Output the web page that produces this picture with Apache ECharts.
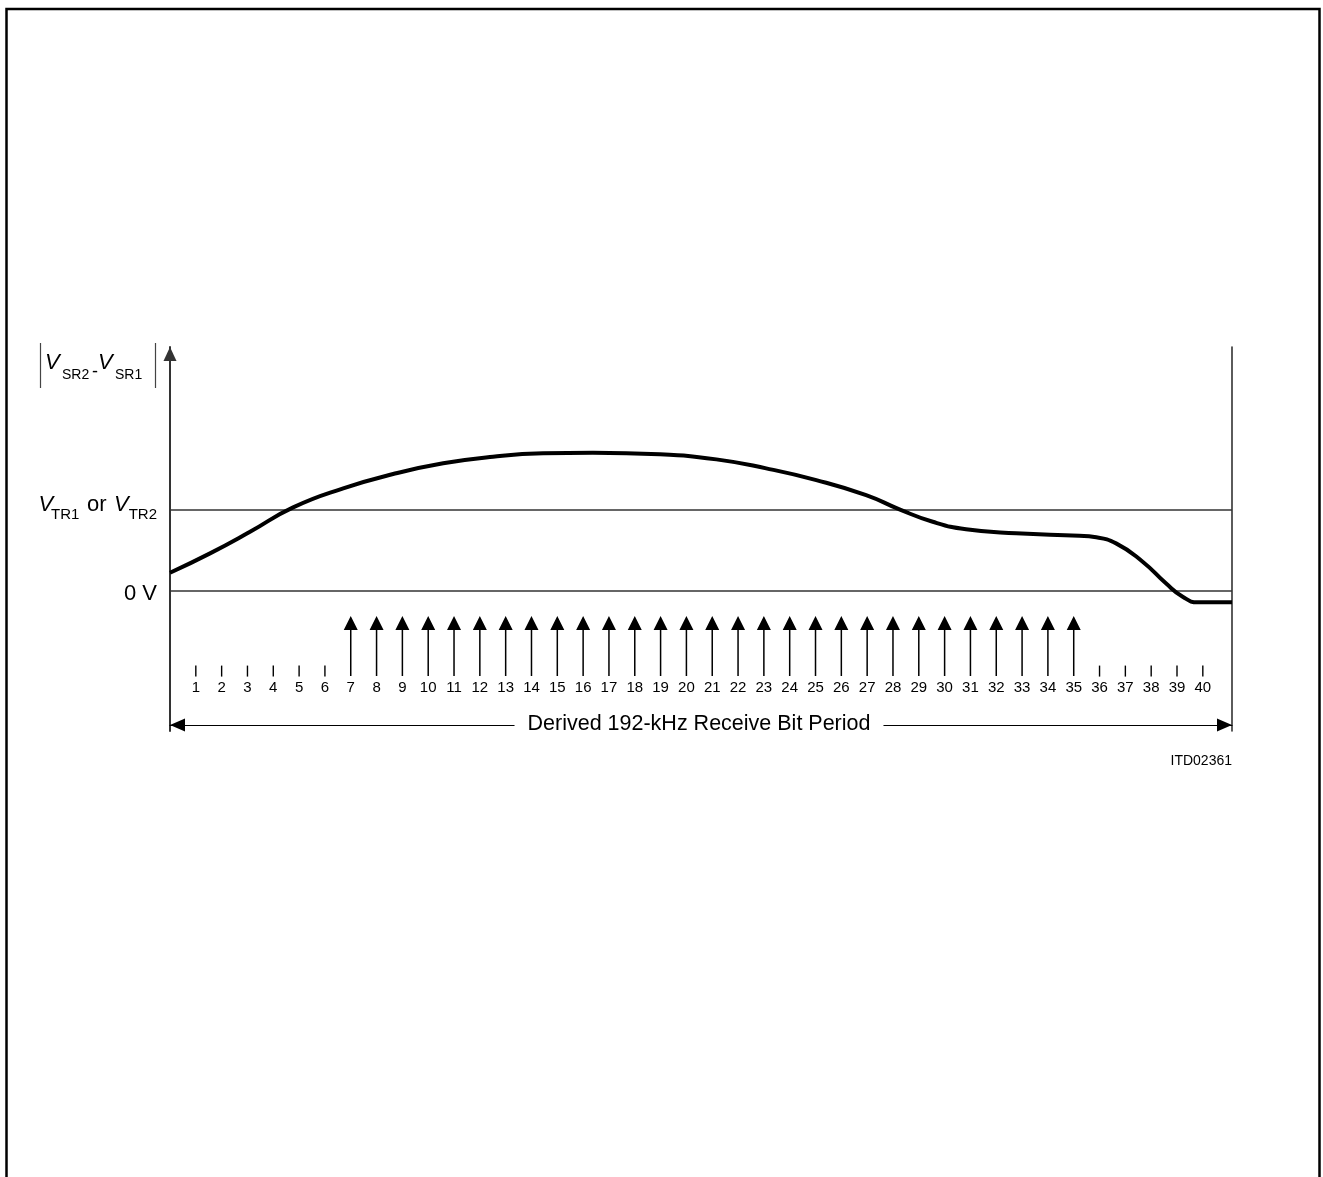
<!DOCTYPE html>
<html>
<head>
<meta charset="utf-8">
<script src="https://cdn.jsdelivr.net/npm/echarts@6/dist/echarts.min.js"></script>
<style>
html,body{margin:0;padding:0;background:#fff;}
#chart{width:1323px;height:1177px;}
</style>
</head>
<body>
<div id="chart"></div>
<script>
// ---- data ----
const bitLabels = ['1','2','3','4','5','6','7','8','9','10','11','12','13','14','15','16','17','18','19','20',
  '21','22','23','24','25','26','27','28','29','30','31','32','33','34','35','36','37','38','39','40'];
const arrowBits = [7,8,9,10,11,12,13,14,15,16,17,18,19,20,21,22,23,24,25,26,27,28,29,30,31,32,33,34,35];
const tickBits = [1,2,3,4,5,6,36,37,38,39,40];
// curve |VSR2 - VSR1| over the bit period (0 V = 0, threshold = 10)
const curveX = [0, 1.55, 3.1, 4.77, 6.71, 8.64, 10.58, 12.51, 14.45, 16.38, 18.96, 21.16, 23.09, 25.03, 26.96, 28.25, 29.54, 30.83, 32.77, 35.22, 35.8, 36.64, 37.67, 38.57, 39.22, 39.8, 41.13];
const curveY = [2.19, 4.58, 7.24, 10.25, 12.59, 14.35, 15.67, 16.48, 16.9, 16.97, 16.78, 16.16, 15.05, 13.61, 11.76, 10.0, 8.47, 7.54, 7.05, 6.75, 6.6, 5.81, 3.55, 0.89, -0.76, -1.45, -1.45];
const levelZero = 0;
const levelThreshold = 10;
const periodEnd = 41.13;
const yRange = [-17.3, 30];
const arrowLevel = -6.84;
const tickLevel = -9.92;

const FONT = "'Liberation Sans', Arial, Helvetica, sans-serif";
const chart = echarts.init(document.getElementById('chart'), null, {renderer: 'canvas'});

function txt(text, x, y, size, opts) {
  opts = opts || {};
  return {
    type: 'text', x: x, y: y, z: 10,
    style: {
      text: text, fontSize: size, fontFamily: FONT,
      fontStyle: opts.italic ? 'italic' : 'normal',
      fill: '#000', align: opts.align || 'left', verticalAlign: 'middle',
      backgroundColor: opts.bg || 'transparent', padding: opts.pad || 0
    }
  };
}

const option = {
  animation: false,
  backgroundColor: '#fff',
  grid: {left: 170, right: 91, top: 347, bottom: 446, containLabel: false, outerBoundsMode: 'none'},
  xAxis: {
    type: 'value', min: 0, max: periodEnd, interval: 1, position: 'bottom', offset: -6,
    axisLine: {show: true, onZero: false, lineStyle: {color: '#000', width: 1.2},
      symbol: ['triangle', 'triangle'], symbolSize: [13, 15], symbolOffset: [7.5, -7.5]},
    axisTick: {show: false}, splitLine: {show: false},
    axisLabel: {inside: true, margin: 37, verticalAlign: 'middle', fontSize: 15, color: '#000', fontFamily: FONT,
      formatter: function (v) { return (Number.isInteger(v) && v >= 1 && v <= 40) ? bitLabels[v - 1] : ''; }}
  },
  yAxis: [
    {type: 'value', min: yRange[0], max: yRange[1], position: 'left',
      axisLine: {show: true, onZero: false, lineStyle: {color: '#333', width: 2},
        symbol: ['none', 'triangle'], symbolSize: [13, 14], symbolOffset: [0, -7]},
      axisTick: {show: false}, axisLabel: {show: false}, splitLine: {show: false}},
    {type: 'value', min: yRange[0], max: yRange[1], position: 'right',
      axisLine: {show: true, onZero: false, lineStyle: {color: '#333', width: 1.6}},
      axisTick: {show: false}, axisLabel: {show: false}, splitLine: {show: false}}
  ],
  series: [
    {
      type: 'line', name: 'levels', data: [], silent: true,
      markLine: {
        silent: true, symbol: 'none', label: {show: false},
        lineStyle: {color: '#333', width: 1.6, type: 'solid'},
        data: [{yAxis: levelZero}, {yAxis: levelThreshold}]
      }
    },
    {
      type: 'line', name: 'VSR', smooth: 0.5, symbol: 'none', z: 5,
      lineStyle: {color: '#000', width: 4},
      data: curveX.map(function (x, i) { return [x, curveY[i]]; })
    },
    {
      type: 'scatter', name: 'sample', z: 4,
      symbol: 'path://M7,0 L14,14 L7.75,14 L7.75,60 L6.25,60 L6.25,14 L0,14 Z',
      symbolSize: [14, 60], itemStyle: {color: '#000', opacity: 1},
      data: arrowBits.map(function (b) { return [b, arrowLevel]; })
    },
    {
      type: 'scatter', name: 'ticks', z: 4,
      symbol: 'rect', symbolSize: [1.4, 11], itemStyle: {color: '#000', opacity: 1},
      data: tickBits.map(function (b) { return [b, tickLevel]; })
    }
  ],
  graphic: [
    {type: 'polyline', z: 10, shape: {points: [[6.5, 1190], [6.5, 9], [1319.5, 9], [1319.5, 1190]]},
      style: {stroke: '#000', lineWidth: 2.5, fill: null}},
    {type: 'line', z: 10, shape: {x1: 40.5, y1: 343, x2: 40.5, y2: 388}, style: {stroke: '#444', lineWidth: 1.2}},
    {type: 'line', z: 10, shape: {x1: 155.5, y1: 343, x2: 155.5, y2: 388}, style: {stroke: '#444', lineWidth: 1.2}},
    txt('V', 45, 363, 22, {italic: true}),
    txt('SR2', 62, 375, 14),
    txt('-', 92, 372, 18),
    txt('V', 98, 363, 22, {italic: true}),
    txt('SR1', 115, 375, 14),
    txt('V', 38.5, 504.5, 22, {italic: true}),
    txt('TR1', 51, 515, 15),
    txt('or', 87, 504.5, 22),
    txt('V', 114, 504.5, 22, {italic: true}),
    txt('TR2', 157, 515, 15, {align: 'right'}),
    txt('0 V', 157, 594, 22, {align: 'right'}),
    txt('ITD02361', 1232, 761, 14, {align: 'right'}),
    txt('Derived 192-kHz Receive Bit Period', 699, 724, 21.5, {align: 'center', bg: '#fff', pad: [2, 13]})
  ]
};
chart.setOption(option);
</script>
</body>
</html>
